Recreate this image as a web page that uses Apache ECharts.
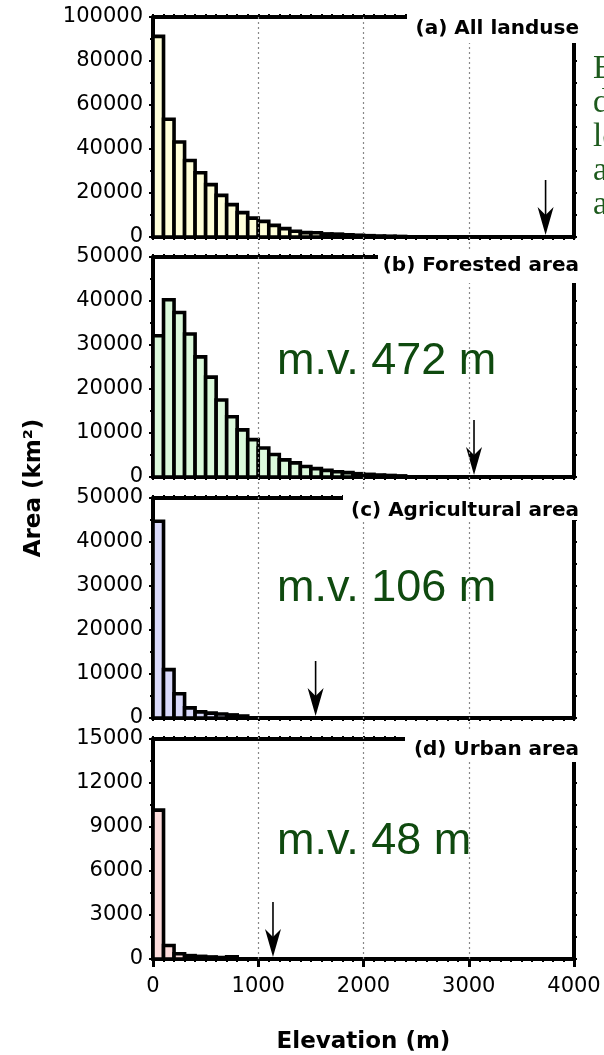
<!DOCTYPE html>
<html>
<head>
<meta charset="utf-8">
<script src="https://cdn.jsdelivr.net/npm/echarts@6/dist/echarts.min.js"></script>
<style>
  html, body { margin: 0; padding: 0; background: #fff; }
  #chart { width: 604px; height: 1055px; }
</style>
</head>
<body>
<div id="chart"></div>
<script>
// Land area (km²) per 100 m elevation bin, starting at 0 m
const binWidth = 100;
const allLanduse = [91200, 53500, 43200, 34800, 29200, 23800, 18900, 14700, 11100, 8600, 7100, 5300, 3800, 2600, 2000, 1900, 1400, 1300, 1000, 800, 600, 450, 350, 250];
const forestedArea = [32100, 40300, 37400, 32500, 27300, 22700, 17500, 13700, 10700, 8500, 6600, 5100, 3900, 3200, 2400, 1900, 1500, 1200, 1000, 750, 600, 450, 350, 250];
const agriculturalArea = [44700, 11000, 5500, 2300, 1400, 1100, 900, 700, 450];
const urbanArea = [10150, 920, 360, 230, 180, 140, 100, 150];

const panelTitles = ['(a) All landuse', '(b) Forested area', '(c) Agricultural area', '(d) Urban area'];
const areaMax = [100000, 50000, 50000, 15000];
const areaStep = [20000, 10000, 10000, 3000];
const arrowElevation = [3730, 3050, 1545, 1140];
const meanValueLabels = ['', 'm.v. 472 m', 'm.v. 106 m', 'm.v. 48 m'];
const elevationMax = 4000;
const elevationStep = 1000;
const gridElevations = [1000, 2000, 3000];
const sideText = ['Elevation', 'distribution', 'levels', 'area', 'and'];

const panelData = [allLanduse, forestedArea, agriculturalArea, urbanArea];
const barFills = ['#ffffd9', '#dbf9db', '#d9d9fb', '#fddcdc'];

// Page layout (pixels)
const PLOT_LEFT = 153, PLOT_RIGHT = 30;
const panelTop = [17, 257, 498, 739];
const panelHeight = 220;
const frameEnd = [407, 378, 343, 405];
const rightAxisStart = [43, 283, 520, 762];
const titleY = [29, 266, 511, 750];
const meanLabelY = [0, 362, 589, 842];
const sideTextY = [69, 103, 137, 171, 205];

const tickFont = 'DejaVu Sans';
const black = '#000';
const plainNumber = function (v) { return String(v); };

const grids = [], xAxes = [], yAxes = [], series = [], graphics = [];

panelData.forEach(function (values, i) {
  const isLast = i === panelData.length - 1;
  grids.push({ left: PLOT_LEFT, right: PLOT_RIGHT, top: panelTop[i], height: panelHeight, outerBoundsMode: 'none' });

  // bottom elevation axis
  xAxes.push({
    gridIndex: i, type: 'value', min: 0, max: elevationMax, interval: elevationStep, position: 'bottom',
    axisLine: { show: true, onZero: false, lineStyle: { color: black, width: 4 } },
    axisTick: { show: true, length: isLast ? 8 : 3, lineStyle: { color: black, width: isLast ? 3 : 2 } },
    minorTick: { show: true, splitNumber: 10, length: 3, lineStyle: { color: black, width: 2 } },
    splitLine: { show: false },
    axisLabel: { show: isLast, margin: 17, color: black, fontFamily: tickFont, fontSize: 21, formatter: plainNumber },
    name: isLast ? 'Elevation (m)' : '', nameLocation: 'middle', nameGap: 72,
    nameTextStyle: { fontFamily: 'DejaVu Sans', fontWeight: 'bold', fontSize: 23, color: black }
  });
  // top frame
  xAxes.push({
    gridIndex: i, type: 'value', min: 0, max: elevationMax, interval: elevationStep, position: 'top',
    axisLine: { show: true, onZero: false, lineStyle: { color: black, width: 4 } },
    axisTick: { show: true, length: 3, lineStyle: { color: black, width: 2 } },
    minorTick: { show: true, splitNumber: 10, length: 3, lineStyle: { color: black, width: 2 } },
    splitLine: { show: false }, axisLabel: { show: false }
  });
  // left area axis
  yAxes.push({
    gridIndex: i, type: 'value', min: 0, max: areaMax[i], interval: areaStep[i], position: 'left',
    axisLine: { show: true, onZero: false, lineStyle: { color: black, width: 4 } },
    axisTick: { show: true, length: 4, lineStyle: { color: black, width: 2 } },
    minorTick: { show: true, splitNumber: 2, length: 3, lineStyle: { color: black, width: 2 } },
    splitLine: { show: false },
    axisLabel: { show: true, margin: 10, color: black, fontFamily: tickFont, fontSize: 21, formatter: plainNumber }
  });
  // right frame
  yAxes.push({
    gridIndex: i, type: 'value', min: 0, max: areaMax[i], interval: areaStep[i] / 2, position: 'right',
    axisLine: { show: true, onZero: false, lineStyle: { color: black, width: 4 } },
    axisTick: { show: true, length: 3, lineStyle: { color: black, width: 2 } },
    splitLine: { show: false }, axisLabel: { show: false }
  });

  // histogram bars, one per elevation bin
  const fill = barFills[i];
  series.push({
    type: 'custom', xAxisIndex: 2 * i, yAxisIndex: 2 * i, z: 3,
    data: values.map(function (v, k) { return [k * binWidth, v]; }),
    renderItem: function (params, api) {
      const x0 = api.value(0), v = api.value(1);
      const p0 = api.coord([x0, v]);
      const p1 = api.coord([x0 + binWidth, 0]);
      return {
        type: 'rect',
        shape: { x: p0[0], y: p0[1], width: p1[0] - p0[0], height: p1[1] - p0[1] },
        style: { fill: fill, stroke: black, lineWidth: 3.6 }
      };
    }
  });

  // downward arrow marking an elevation on the baseline
  series.push({
    type: 'custom', xAxisIndex: 2 * i, yAxisIndex: 2 * i, z: 4,
    data: [[arrowElevation[i]]],
    renderItem: function (params, api) {
      const p = api.coord([api.value(0), 0]);
      const x = p[0], y = p[1] - 2;
      return {
        type: 'group',
        children: [
          { type: 'line', shape: { x1: x, y1: y - 55, x2: x, y2: y - 20 }, style: { stroke: black, lineWidth: 1.6 } },
          { type: 'polygon', shape: { points: [[x, y], [x - 8, y - 28], [x, y - 20], [x + 8, y - 28]] }, style: { fill: black } }
        ]
      };
    }
  });

  // panel title on a white patch that interrupts the frame
  graphics.push({
    type: 'rect', z: 50,
    shape: { x: frameEnd[i], y: panelTop[i] - 8, width: 604 - frameEnd[i], height: rightAxisStart[i] - panelTop[i] + 8 },
    style: { fill: '#fff' }
  });
  graphics.push({
    type: 'text', z: 51, x: 579, y: titleY[i],
    style: { text: panelTitles[i], font: 'bold 20px "DejaVu Sans"', fill: black, align: 'right', verticalAlign: 'middle' }
  });

  if (meanValueLabels[i]) {
    graphics.push({
      type: 'text', z: 51, x: 277, y: meanLabelY[i],
      style: { text: meanValueLabels[i], font: '45px "Liberation Sans"', fill: '#0f4a0f', align: 'left', verticalAlign: 'middle' }
    });
  }
});

// full-height guide lines shared by all panels
grids.push({ left: PLOT_LEFT, right: PLOT_RIGHT, top: panelTop[0], bottom: 1055 - (panelTop[3] + panelHeight), outerBoundsMode: 'none' });
xAxes.push({ gridIndex: 4, type: 'value', min: 0, max: elevationMax, show: false });
yAxes.push({
  gridIndex: 4, type: 'value', min: 0, max: 1,
  axisLine: { show: false }, axisTick: { show: false }, axisLabel: { show: false }, splitLine: { show: false },
  name: 'Area (km²)', nameLocation: 'middle', nameGap: 107,
  nameTextStyle: { fontFamily: 'DejaVu Sans', fontWeight: 'bold', fontSize: 23, color: black }
});
series.push({
  type: 'line', xAxisIndex: 8, yAxisIndex: 8, z: 1, silent: true,
  data: [[0, 0]], symbol: 'none', lineStyle: { opacity: 0 },
  markLine: {
    silent: true, symbol: 'none', label: { show: false },
    lineStyle: { color: '#888', width: 1.2, type: [2, 3] },
    data: gridElevations.map(function (e) { return { xAxis: e }; })
  }
});

sideText.forEach(function (t, k) {
  graphics.push({
    type: 'text', z: 51, x: 593, y: sideTextY[k],
    style: { text: t, font: '33px "Liberation Serif"', fill: '#1d5a1d', align: 'left', verticalAlign: 'middle' }
  });
});

const chart = echarts.init(document.getElementById('chart'), null, { renderer: 'canvas' });
chart.setOption({
  animation: false,
  backgroundColor: '#fff',
  grid: grids,
  xAxis: xAxes,
  yAxis: yAxes,
  series: series,
  graphic: { elements: graphics }
});
</script>
</body>
</html>
